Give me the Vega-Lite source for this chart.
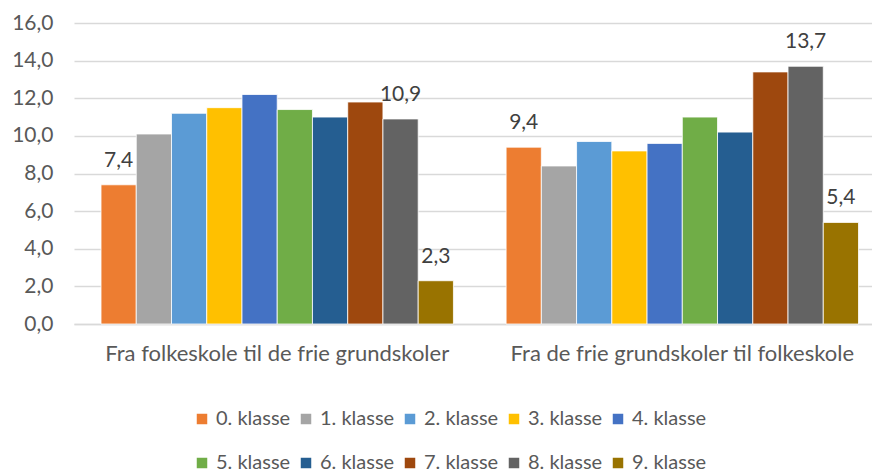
{
  "$schema": "https://vega.github.io/schema/vega-lite/v6.json",
  "width": 798,
  "height": 301,
  "autosize": "none",
  "padding": {"left": 74, "top": 23, "right": 0, "bottom": 148},
  "background": "white",
  "config": {
    "view": {"stroke": null},
    "locale": {"number": {"decimal": ",", "thousands": ".", "grouping": [3], "currency": ["", " kr."]}},
    "font": "Lato"
  },
  "data": {
    "values": [
      {"gruppe": "Fra folkeskole til de frie grundskoler", "klasse": "0. klasse", "andel": 7.4},
      {"gruppe": "Fra folkeskole til de frie grundskoler", "klasse": "1. klasse", "andel": 10.1},
      {"gruppe": "Fra folkeskole til de frie grundskoler", "klasse": "2. klasse", "andel": 11.2},
      {"gruppe": "Fra folkeskole til de frie grundskoler", "klasse": "3. klasse", "andel": 11.5},
      {"gruppe": "Fra folkeskole til de frie grundskoler", "klasse": "4. klasse", "andel": 12.2},
      {"gruppe": "Fra folkeskole til de frie grundskoler", "klasse": "5. klasse", "andel": 11.4},
      {"gruppe": "Fra folkeskole til de frie grundskoler", "klasse": "6. klasse", "andel": 11.0},
      {"gruppe": "Fra folkeskole til de frie grundskoler", "klasse": "7. klasse", "andel": 11.8},
      {"gruppe": "Fra folkeskole til de frie grundskoler", "klasse": "8. klasse", "andel": 10.9},
      {"gruppe": "Fra folkeskole til de frie grundskoler", "klasse": "9. klasse", "andel": 2.3},
      {"gruppe": "Fra de frie grundskoler til folkeskole", "klasse": "0. klasse", "andel": 9.4},
      {"gruppe": "Fra de frie grundskoler til folkeskole", "klasse": "1. klasse", "andel": 8.4},
      {"gruppe": "Fra de frie grundskoler til folkeskole", "klasse": "2. klasse", "andel": 9.7},
      {"gruppe": "Fra de frie grundskoler til folkeskole", "klasse": "3. klasse", "andel": 9.2},
      {"gruppe": "Fra de frie grundskoler til folkeskole", "klasse": "4. klasse", "andel": 9.6},
      {"gruppe": "Fra de frie grundskoler til folkeskole", "klasse": "5. klasse", "andel": 11.0},
      {"gruppe": "Fra de frie grundskoler til folkeskole", "klasse": "6. klasse", "andel": 10.2},
      {"gruppe": "Fra de frie grundskoler til folkeskole", "klasse": "7. klasse", "andel": 13.4},
      {"gruppe": "Fra de frie grundskoler til folkeskole", "klasse": "8. klasse", "andel": 13.7},
      {"gruppe": "Fra de frie grundskoler til folkeskole", "klasse": "9. klasse", "andel": 5.4}
    ]
  },
  "encoding": {
    "x": {
      "field": "gruppe", "type": "nominal", "sort": null, "title": null,
      "scale": {"paddingInner": 0.13, "paddingOuter": 0.05, "align": 0.667},
      "axis": {"labelAngle": 0, "labelFontSize": 22, "labelColor": "#595959", "labelPadding": 19, "labelLimit": 0,
               "ticks": false, "domainColor": "#d9d9d9", "domainWidth": 1.5, "labelFont": "Lato"}
    },
    "y": {
      "field": "andel", "type": "quantitative", "title": null,
      "scale": {"domain": [0, 16], "nice": false},
      "axis": {"values": [0, 2, 4, 6, 8, 10, 12, 14, 16], "format": ".1f", "domain": false, "ticks": false,
               "labelFontSize": 21, "labelColor": "#595959", "labelPadding": 21,
               "gridColor": "#d9d9d9", "gridWidth": 1.5, "labelFont": "Lato"}
    },
    "xOffset": {"field": "klasse", "type": "nominal", "sort": null, "scale": {"paddingInner": 0, "paddingOuter": 0}}
  },
  "layer": [
    {
      "mark": {"type": "bar", "stroke": "white", "strokeWidth": 0.8},
      "encoding": {
        "color": {
          "field": "klasse", "type": "nominal", "sort": null,
          "scale": {"range": ["#ED7D31", "#A5A5A5", "#5B9BD5", "#FFC000", "#4472C4", "#70AD47", "#255E91", "#9E480E", "#636363", "#997300"]},
          "legend": {
            "title": null, "orient": "none", "legendX": 118, "legendY": 386, "columns": 5, "direction": "horizontal",
            "symbolType": "square", "symbolSize": 110, "symbolStrokeWidth": 0, "labelFontSize": 20, "labelColor": "#595959",
            "columnPadding": 5, "rowPadding": 24, "labelOffset": 4, "labelFont": "Lato"
          }
        }
      }
    },
    {
      "transform": [{"filter": {"field": "klasse", "oneOf": ["0. klasse", "8. klasse", "9. klasse"]}}],
      "mark": {"type": "text", "baseline": "alphabetic", "dy": -18, "fontSize": 21, "color": "#404040", "font": "Lato"},
      "encoding": {"text": {"field": "andel", "type": "quantitative", "format": ".1f"}}
    }
  ]
}
